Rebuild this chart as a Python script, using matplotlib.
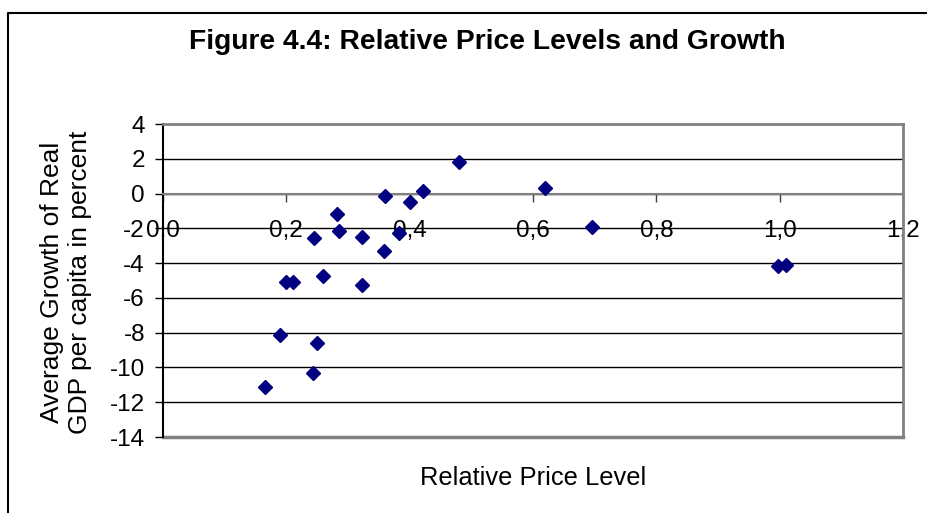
import matplotlib
matplotlib.use("Agg")
import matplotlib.pyplot as plt
from matplotlib.lines import Line2D
from matplotlib.ticker import FuncFormatter

plt.rcParams['font.family'] = ['Liberation Sans', 'DejaVu Sans']

# Relative price level vs. average growth of real GDP per capita (percent)
price_level = [0.480, 0.422, 0.360, 0.401, 0.282, 0.285, 0.245, 0.323,
               0.382, 0.359, 0.199, 0.211, 0.259, 0.322, 0.189, 0.249,
               0.243, 0.165, 0.619, 0.695, 0.998, 1.011]
growth = [1.80, 0.14, -0.14, -0.47, -1.20, -2.14, -2.58, -2.52,
          -2.26, -3.31, -5.06, -5.06, -4.76, -5.27, -8.12, -8.58,
          -10.31, -11.14, 0.33, -1.95, -4.18, -4.12]

x_ticks = [0.0, 0.2, 0.4, 0.6, 0.8, 1.0, 1.2]
y_ticks = [4, 2, 0, -2, -4, -6, -8, -10, -12, -14]

W, H = 928, 513
fig = plt.figure(figsize=(W / 100, H / 100), dpi=100)
ax = fig.add_axes([163 / W, 1 - 437 / H, (903 - 163) / W, (437 - 124) / H])

# gridlines
for y in y_ticks[1:-1]:
    ax.axhline(y, color='black', lw=1, zorder=1)

ax.plot(price_level, growth, linestyle='none', marker='D', ms=7.2,
        color='#000080', mec='#000080', zorder=3)

ax.set_xlim(0, 1.2)
ax.set_ylim(-14, 4)
ax.set_xticks(x_ticks)
ax.set_yticks(y_ticks)
ax.xaxis.set_major_formatter(FuncFormatter(lambda v, p: f"{v:.1f}".replace('.', ',')))
ax.yaxis.set_major_formatter(FuncFormatter(lambda v, p: f"{v:.0f}"))

# x axis crosses at y = 0
ax.spines['bottom'].set_position(('data', 0))
ax.spines['bottom'].set_color('#808080')
ax.spines['bottom'].set_linewidth(1.5)
ax.spines['left'].set_color('black')
ax.spines['left'].set_linewidth(1.5)
for s in ['top', 'right']:
    ax.spines[s].set_color('#808080')
    ax.spines[s].set_linewidth(2)
ax.axhline(-14, color='#808080', lw=2.5, clip_on=False, zorder=2)

ax.tick_params(axis='x', direction='out', length=6, width=1, color='#404040',
               pad=13, labelsize=17.5)
ax.tick_params(axis='y', direction='out', length=6, width=1, color='black',
               pad=7, labelsize=17.5)

fig.text(487 / W, 1 - 42 / H, "Figure 4.4: Relative Price Levels and Growth",
         ha='center', va='center', fontsize=20.3, fontweight='bold')
fig.text(533 / W, 1 - 478 / H, "Relative Price Level",
         ha='center', va='center', fontsize=18.4)
fig.text(66 / W, 1 - 282 / H, "Average Growth of Real\nGDP per capita in percent",
         ha='center', va='center', rotation=90, fontsize=19, linespacing=1.2)

# outer chart frame (left and top edges visible)
fig.add_artist(Line2D([8 / W, 8 / W, 1], [0, 1 - 13 / H, 1 - 13 / H],
                      transform=fig.transFigure, color='black', lw=1.5))

fig.savefig("out.png", dpi=100)
